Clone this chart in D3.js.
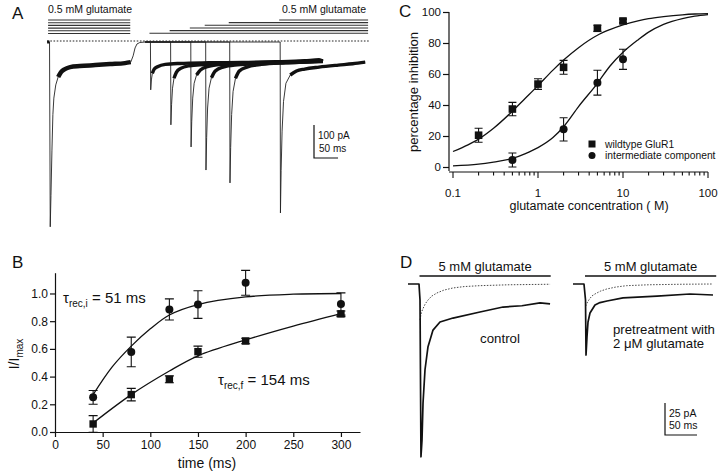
<!DOCTYPE html>
<html><head><meta charset="utf-8">
<script src="https://cdn.jsdelivr.net/npm/d3@7"></script>
<style>
body{margin:0;background:#fff}
svg{display:block;background:#fff}
text{font-family:"Liberation Sans",Arial,Helvetica,sans-serif;fill:#111}
</style>
</head><body>
<svg id="c" width="720" height="476"></svg>
<script>
// ================= DATA =================
// Panel A (time in ms, current in pA)
const aTimeRange = [-6, 666];
const firstBar = [-4, 167];
const secondOnsets = [209, 251, 293, 324, 374, 479];
const secondBarEnd = 662;
const traceFirst = [[-6,0],[-1,0],[0.5,-560],[2,-465],[4,-330],[6,-220],[8,-170],[12,-130],[17,-106],[23,-91],[31,-82],[42,-76],[62,-73],[94,-70],[125,-67],[156,-64],[168,-61],[173,-42],[177,-18],[181,-6],[187,-1.5],[198,0]];
const traceSecond = [
  [[198,0],[209,0],[209.6,-145],[211,-115],[213,-95],[217,-82],[225,-74],[240,-68],[270,-65],[330,-63],[400,-62],[470,-60],[530,-57],[560,-54],[568,-58]],
  [[198,0],[251,0],[251.6,-251],[253,-190],[255,-140],[258,-110],[263,-92],[272,-80],[290,-72],[320,-68],[380,-64],[450,-62],[520,-60],[568,-58]],
  [[198,0],[293,0],[293.6,-318],[295,-240],[297,-170],[300,-125],[305,-100],[313,-85],[330,-74],[360,-68],[420,-64],[490,-61],[540,-58],[568,-57]],
  [[198,0],[324,0],[324.6,-388],[326,-290],[328,-200],[331,-140],[336,-108],[344,-88],[360,-76],[390,-69],[440,-65],[500,-62],[568,-59]],
  [[198,0],[374,0],[374.6,-427],[376,-320],[378,-220],[381,-150],[386,-110],[394,-88],[410,-76],[440,-68],[490,-63],[540,-60],[568,-58]],
  [[198,0],[479,0],[479.6,-518],[481,-390],[483,-270],[486,-180],[491,-125],[500,-100],[513,-88],[530,-82],[560,-76],[600,-70],[630,-66],[656,-61]]
];
const scaleA = {pA: 100, ms: 50};

// Panel B
const tB = [40, 80, 120, 150, 200, 300];
const intermB = [0.25, 0.578, 0.885, 0.92, 1.077, 0.924];
const intermErrB = [0.05, 0.107, 0.076, 0.10, 0.09, 0.08];
const fastB = [0.058, 0.27, 0.38, 0.58, 0.657, 0.853];
const fastErrB = [0.06, 0.045, 0.025, 0.04, 0.02, 0.02];
const fitIntermB = [[40,0.27],[60,0.47],[80,0.62],[100,0.745],[120,0.845],[150,0.92],[200,0.975],[250,0.995],[300,1.0]];
const fitFastB = [[40,0.065],[80,0.27],[120,0.44],[150,0.55],[200,0.665],[250,0.765],[300,0.855]];
const ticksBx = [0, 50, 100, 150, 200, 250, 300];
const ticksBy = [0, 0.2, 0.4, 0.6, 0.8, 1.0];

// Panel C
const concWild = [0.2, 0.5, 1, 2, 5, 10];
const wildC = [20.5, 37.4, 53.5, 64.3, 89.5, 94.2];
const wildErrC = [4.5, 4.3, 3.4, 4.5, 2, 1.2];
const concInter = [0.5, 2, 5, 10];
const interC = [4.5, 24.3, 54.4, 69.5];
const interErrC = [4.5, 7.5, 8, 6.5];
const fitWildC = [[0.1,10],[0.15,14.3],[0.2,18],[0.3,25],[0.5,36],[0.7,44],[1,52.5],[1.5,62.5],[2,69],[3,77],[5,85],[7,88.6],[10,91.7],[15,94.3],[20,95.7],[30,97],[50,98.2],[70,98.7],[100,99]];
const fitInterC = [[0.1,0.7],[0.2,1.8],[0.3,3.2],[0.5,5.5],[0.7,8.5],[1,12.5],[1.5,19],[2,26],[3,39],[5,54],[7,65],[10,74],[15,82],[20,87],[30,92],[50,95.8],[70,97.3],[100,98.3]];
const ticksCx = [0.1, 1, 10, 100];
const ticksCy = [0, 20, 40, 60, 80, 100];
const legendC = ["wildtype GluR1", "intermediate component"];

// Panel D (time in ms, current in pA)
const pulseD = [0, 205];
const dControl = [[-18,0],[-0.8,0],[0.8,-12.5],[2.3,-135],[3.9,-122],[5.5,-93],[8.6,-67],[13.3,-49],[21.1,-36],[32,-29.7],[52.3,-26.6],[94.5,-21.9],[130.5,-18],[160,-17],[188.3,-14.8],[204,-15.6]];
const dControlFit = [[0.8,-28],[3,-22],[5.9,-18.8],[9,-15.5],[13.3,-12.5],[19,-9.5],[27.3,-7],[38,-4.8],[52.3,-3.1],[70,-2],[94.5,-1.3],[140,-0.6],[204,-0.2]];
const dPre = [[-18.8,0],[-1.6,0],[0.8,-12.5],[1.6,-55.5],[3.1,-41.4],[4.7,-29.7],[7.8,-22.7],[15.6,-16.4],[23.4,-14.5],[34.4,-13.3],[59.4,-10.9],[112.5,-9.4],[164,-7.8],[200,-8.6]];
const dPreFit = [[1.1,-17.2],[4,-14],[7.8,-11.2],[11,-9.3],[15.6,-7.8],[24,-5.6],[34,-3.9],[48,-2.4],[65,-1.3],[100,-0.6],[150,-0.2],[200,0]];
const scaleD = {pA: 25, ms: 50};

// ================= DRAW =================
const svg = d3.select('#c');
const INK = '#111';
function label(g, x, y, s, size, anchor, extra) {
  const t = g.append('text').attr('x', x).attr('y', y).attr('font-size', size).attr('text-anchor', anchor || 'start').text(s);
  if (extra) extra(t);
  return t;
}

// ---------- Panel A ----------
const gA = svg.append('g');
const xA = d3.scaleLinear().domain([0, 100]).range([50, 98.05]);
const yA = d3.scaleLinear().domain([0, -100]).range([42, 75]);
const lnA = d3.line().x(d => xA(d[0])).y(d => yA(d[1]));
label(gA, 12, 19, 'A', 17);
gA.append('path').attr('d', lnA([[aTimeRange[0], 0], [aTimeRange[1], 0]]))
  .attr('transform', 'translate(0,-1)').attr('fill', 'none').attr('stroke', '#222')
  .attr('stroke-width', 1).attr('stroke-dasharray', '1.6,1.6');
// bars
for (let i = 0; i < 6; i++) {
  gA.append('line').attr('x1', xA(firstBar[0])).attr('x2', xA(firstBar[1]))
    .attr('y1', 20 + i * 2.7).attr('y2', 20 + i * 2.7).attr('stroke', '#333').attr('stroke-width', 1.1);
}
secondOnsets.forEach((on, i) => {
  const k = secondOnsets.length - 1 - i;
  gA.append('line').attr('x1', xA(on - 2)).attr('x2', xA(secondBarEnd))
    .attr('y1', 20 + k * 2.65).attr('y2', 20 + k * 2.65).attr('stroke', '#333').attr('stroke-width', 1.1);
});
label(gA, 48, 13, '0.5 mM glutamate', 10.5);
label(gA, 366, 13, '0.5 mM glutamate', 10.5, 'end');
function plateau(tr) {
  const iMin = d3.minIndex(tr, d => d[1]);
  const i0 = tr.findIndex((d, i) => i > iMin && d[1] > -112);
  let i1 = tr.length - 1;
  while (i1 > i0 && tr[i1][1] > -50) i1--;
  return tr.slice(i0, i1 + 1);
}
const allA = [traceFirst, ...traceSecond];
allA.forEach(tr => {
  gA.append('path').attr('d', lnA(tr)).attr('fill', 'none').attr('stroke', '#222').attr('stroke-width', 0.9);
});
allA.forEach((tr, i) => {
  gA.append('path').attr('d', lnA.curve(d3.curveMonotoneX)(plateau(tr))).attr('fill', 'none')
    .attr('stroke', INK).attr('stroke-width', i === 0 ? 4.5 : 3.4).attr('stroke-linejoin', 'round');
  lnA.curve(d3.curveLinear);
});
gA.append('path').attr('d', lnA(traceFirst.filter(d => d[0] < 0))).attr('stroke', INK).attr('stroke-width', 3);
// scale bar A
{
  const x0 = 314, y0 = 158;
  const h = yA(-scaleA.pA) - yA(0), w = xA(scaleA.ms) - xA(0);
  gA.append('path').attr('d', `M${x0},${y0 - h}V${y0}H${x0 + w}`).attr('fill', 'none').attr('stroke', INK).attr('stroke-width', 1.2);
  label(gA, x0 + 4, 139, scaleA.pA + ' pA', 10);
  label(gA, x0 + 5, 152, scaleA.ms + ' ms', 10);
}

// ---------- Panel B ----------
const gB = svg.append('g');
const xB = d3.scaleLinear().domain([0, 320]).range([55, 360]);
const yB = d3.scaleLinear().domain([0, 1.15]).range([432, 272.7]);
label(gB, 12, 268, 'B', 17);
const axB = gB.append('g').attr('transform', 'translate(0,432)')
  .call(d3.axisBottom(xB).tickValues(ticksBx).tickSize(5).tickPadding(3).tickSizeOuter(0));
const ayB = gB.append('g').attr('transform', 'translate(55,0)')
  .call(d3.axisLeft(yB).tickValues(ticksBy).tickFormat(d3.format('.1f')).tickSize(5).tickPadding(2).tickSizeOuter(0));
[axB, ayB].forEach(a => {
  a.selectAll('path,line').attr('stroke', INK).attr('stroke-width', 1.2);
  a.selectAll('text').attr('font-size', 12).attr('fill', INK).attr('font-family', '"Liberation Sans",Arial,sans-serif');
});
label(gB, 207, 468, 'time (ms)', 14, 'middle');
label(gB, 0, 0, '', 14, 'middle', t => {
  t.attr('transform', 'translate(19,354) rotate(-90)');
  t.append('tspan').text('I/I');
  t.append('tspan').attr('dy', 4).attr('font-size', 10).text('max');
});
const lnB = d3.line().x(d => xB(d[0])).y(d => yB(d[1])).curve(d3.curveCatmullRom);
[fitIntermB, fitFastB].forEach(f => gB.append('path').attr('d', lnB(f)).attr('fill', 'none').attr('stroke', INK).attr('stroke-width', 1.3));
function errBars(g, xs, ys, es, xS, yS, cap) {
  xs.forEach((x, i) => {
    const px = xS(x), y1 = yS(ys[i] + es[i]), y2 = yS(ys[i] - es[i]);
    g.append('path').attr('d', `M${px},${y1}V${y2}M${px - cap},${y1}H${px + cap}M${px - cap},${y2}H${px + cap}`)
      .attr('stroke', INK).attr('stroke-width', 1.1).attr('fill', 'none');
  });
}
errBars(gB, tB, intermB, intermErrB, xB, yB, 4.5);
errBars(gB, tB, fastB, fastErrB, xB, yB, 4.5);
tB.forEach((t, i) => {
  gB.append('circle').attr('cx', xB(t)).attr('cy', yB(intermB[i])).attr('r', 4).attr('fill', INK);
  gB.append('rect').attr('x', xB(t) - 3.7).attr('y', yB(fastB[i]) - 3.7).attr('width', 7.4).attr('height', 7.4).attr('fill', INK);
});
label(gB, 63, 303, '', 15, 'start', t => {
  t.append('tspan').text('τ');
  t.append('tspan').attr('dy', 4).attr('font-size', 10).text('rec,i');
  t.append('tspan').attr('dy', -4).text(' = 51 ms');
});
label(gB, 218, 385, '', 15, 'start', t => {
  t.append('tspan').text('τ');
  t.append('tspan').attr('dy', 4).attr('font-size', 10).text('rec,f');
  t.append('tspan').attr('dy', -4).text(' = 154 ms');
});

// ---------- Panel C ----------
const gC = svg.append('g');
const xC = d3.scaleLog().domain([0.1, 100]).range([453, 708]);
const yC = d3.scaleLinear().domain([0, 100]).range([167, 12]);
const axisYC = 172;
label(gC, 399, 17, 'C', 17);
gC.append('line').attr('x1', 449).attr('x2', xC(100)).attr('y1', axisYC).attr('y2', axisYC).attr('stroke', INK).attr('stroke-width', 1.2);
xC.ticks().forEach(v => {
  const major = ticksCx.some(m => Math.abs(m - v) < 1e-9);
  gC.append('line').attr('x1', xC(v)).attr('x2', xC(v)).attr('y1', axisYC).attr('y2', axisYC + (major ? 6 : 3.5))
    .attr('stroke', INK).attr('stroke-width', 1.1);
});
ticksCx.forEach(v => label(gC, xC(v), 197, String(v), 11.5, 'middle'));
const ayC = gC.append('g').attr('transform', 'translate(449,0)')
  .call(d3.axisLeft(yC).tickValues(ticksCy).tickSize(6).tickPadding(2).tickSizeOuter(0));
ayC.select('.domain').remove();
ayC.selectAll('line').attr('stroke', INK).attr('stroke-width', 1.2);
ayC.selectAll('text').attr('font-size', 11.5).attr('fill', INK).attr('font-family', '"Liberation Sans",Arial,sans-serif');
gC.append('line').attr('x1', 449).attr('x2', 449).attr('y1', yC(100)).attr('y2', yC(0) + 4).attr('stroke', INK).attr('stroke-width', 1.2);
label(gC, 589, 210, 'glutamate concentration ( M)', 12.5, 'middle');
label(gC, 0, 0, 'percentage inhibition', 13, 'middle', t => t.attr('transform', 'translate(418,92) rotate(-90)'));
const lnC = d3.line().x(d => xC(d[0])).y(d => yC(d[1])).curve(d3.curveMonotoneX);
[fitWildC, fitInterC].forEach(f => gC.append('path').attr('d', lnC(f)).attr('fill', 'none').attr('stroke', INK).attr('stroke-width', 1.3));
errBars(gC, concWild, wildC, wildErrC, xC, yC, 4);
errBars(gC, concInter, interC, interErrC, xC, yC, 4);
concWild.forEach((c, i) => gC.append('rect').attr('x', xC(c) - 3.8).attr('y', yC(wildC[i]) - 3.8).attr('width', 7.6).attr('height', 7.6).attr('fill', INK));
concInter.forEach((c, i) => gC.append('circle').attr('cx', xC(c)).attr('cy', yC(interC[i])).attr('r', 4).attr('fill', INK));
gC.append('rect').attr('x', 588.5).attr('y', 140.5).attr('width', 7).attr('height', 7).attr('fill', INK);
gC.append('circle').attr('cx', 592).attr('cy', 155.5).attr('r', 3.5).attr('fill', INK);
label(gC, 605, 148, legendC[0], 10.3);
label(gC, 605, 159, legendC[1], 10.3);

// ---------- Panel D ----------
const gD = svg.append('g');
const xDL = d3.scaleLinear().domain([0, 100]).range([419.5, 483.5]);
const xDR = d3.scaleLinear().domain([0, 100]).range([585, 649]);
const yD = d3.scaleLinear().domain([0, -100]).range([284, 412]);
label(gD, 400, 268, 'D', 17);
[[xDL, dControl, dControlFit], [xDR, dPre, dPreFit]].forEach(([xS, tr, fit]) => {
  gD.append('line').attr('x1', xS(pulseD[0])).attr('x2', xS(pulseD[1])).attr('y1', 276).attr('y2', 276).attr('stroke', INK).attr('stroke-width', 1.5);
  label(gD, (xS(pulseD[0]) + xS(pulseD[1])) / 2, 271, '5 mM glutamate', 13, 'middle');
  const ln = d3.line().x(d => xS(d[0])).y(d => yD(d[1]));
  gD.append('path').attr('d', ln(fit)).attr('fill', 'none').attr('stroke', '#333').attr('stroke-width', 0.9).attr('stroke-dasharray', '1.5,1.5');
  gD.append('path').attr('d', ln(tr)).attr('fill', 'none').attr('stroke', INK).attr('stroke-width', 1.7).attr('stroke-linejoin', 'round');
});
label(gD, 480, 343, 'control', 13.3);
label(gD, 613, 334, 'pretreatment with', 13.2);
label(gD, 613, 348, '2 μM glutamate', 13.2);
{
  const x0 = 665, y0 = 435;
  const h = yD(-scaleD.pA) - yD(0), w = xDL(scaleD.ms) - xDL(0);
  gD.append('path').attr('d', `M${x0},${y0 - h}V${y0}H${x0 + w}`).attr('fill', 'none').attr('stroke', INK).attr('stroke-width', 1.2);
  label(gD, x0 + 4, 417, scaleD.pA + ' pA', 10.5);
  label(gD, x0 + 4, 429, scaleD.ms + ' ms', 10.5);
}
</script>
</body></html>
